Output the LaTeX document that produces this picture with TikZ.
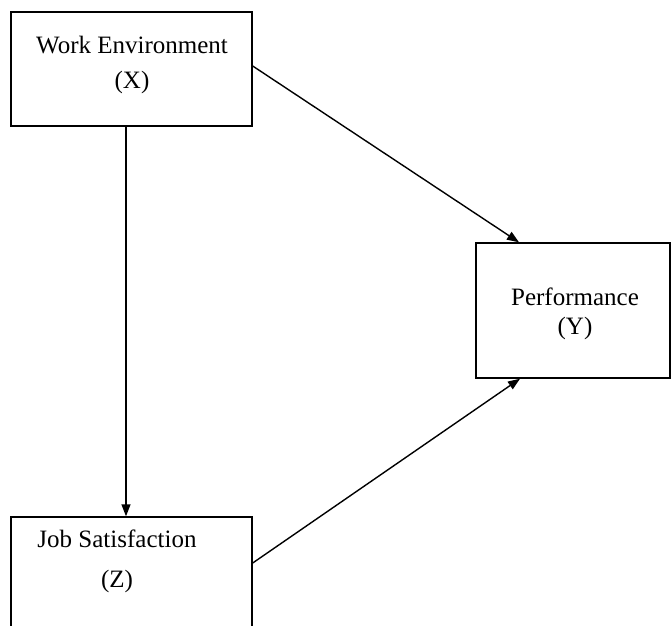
\documentclass[tikz,border=0pt]{standalone}
\usepackage{fontspec}
\setmainfont{Liberation Serif}
\usetikzlibrary{arrows.meta}
\tikzstyle{box}=[rectangle,draw=black,line width=1.4pt,fill=white,inner sep=0pt]
\tikzstyle{txt}=[inner sep=0pt,font=\fontsize{25}{30}\selectfont,align=center]
\tikzstyle{arr}=[line width=1.4pt,-{Triangle[length=12pt,width=9pt]}]
\begin{document}
\begin{tikzpicture}[x=1pt,y=-1pt]
    \useasboundingbox (0,0) rectangle (672,626);
    \node [style=box,minimum width=241pt,minimum height=114pt] (workenv) at (131.5,69) {};
    \node [style=box,minimum width=194pt,minimum height=135pt] (perf) at (573,310.5) {};
    \node [style=box,minimum width=241pt,minimum height=130pt] (jobsat) at (131.5,582) {};
    \node [style=txt] (workenvtext) at (132,65) {Work Environment\\[5pt](X)};
    \node [style=txt] (perftext) at (575,314) {Performance\\[-1pt](Y)};
    \node [style=txt] (jobsattext) at (117,561) {Job Satisfaction\\[10pt](Z)\hspace{10pt}};
    \draw [style=arr] ([xshift=-5.5pt]workenv.south) to ([xshift=-5.5pt]jobsat.north);
    \draw [style=arr] ([yshift=3pt]workenv.east) to ([xshift=-54pt]perf.north);
    \draw [style=arr] ([yshift=19pt]jobsat.east) to ([xshift=-53pt]perf.south);
  \end{tikzpicture}
\end{document}
